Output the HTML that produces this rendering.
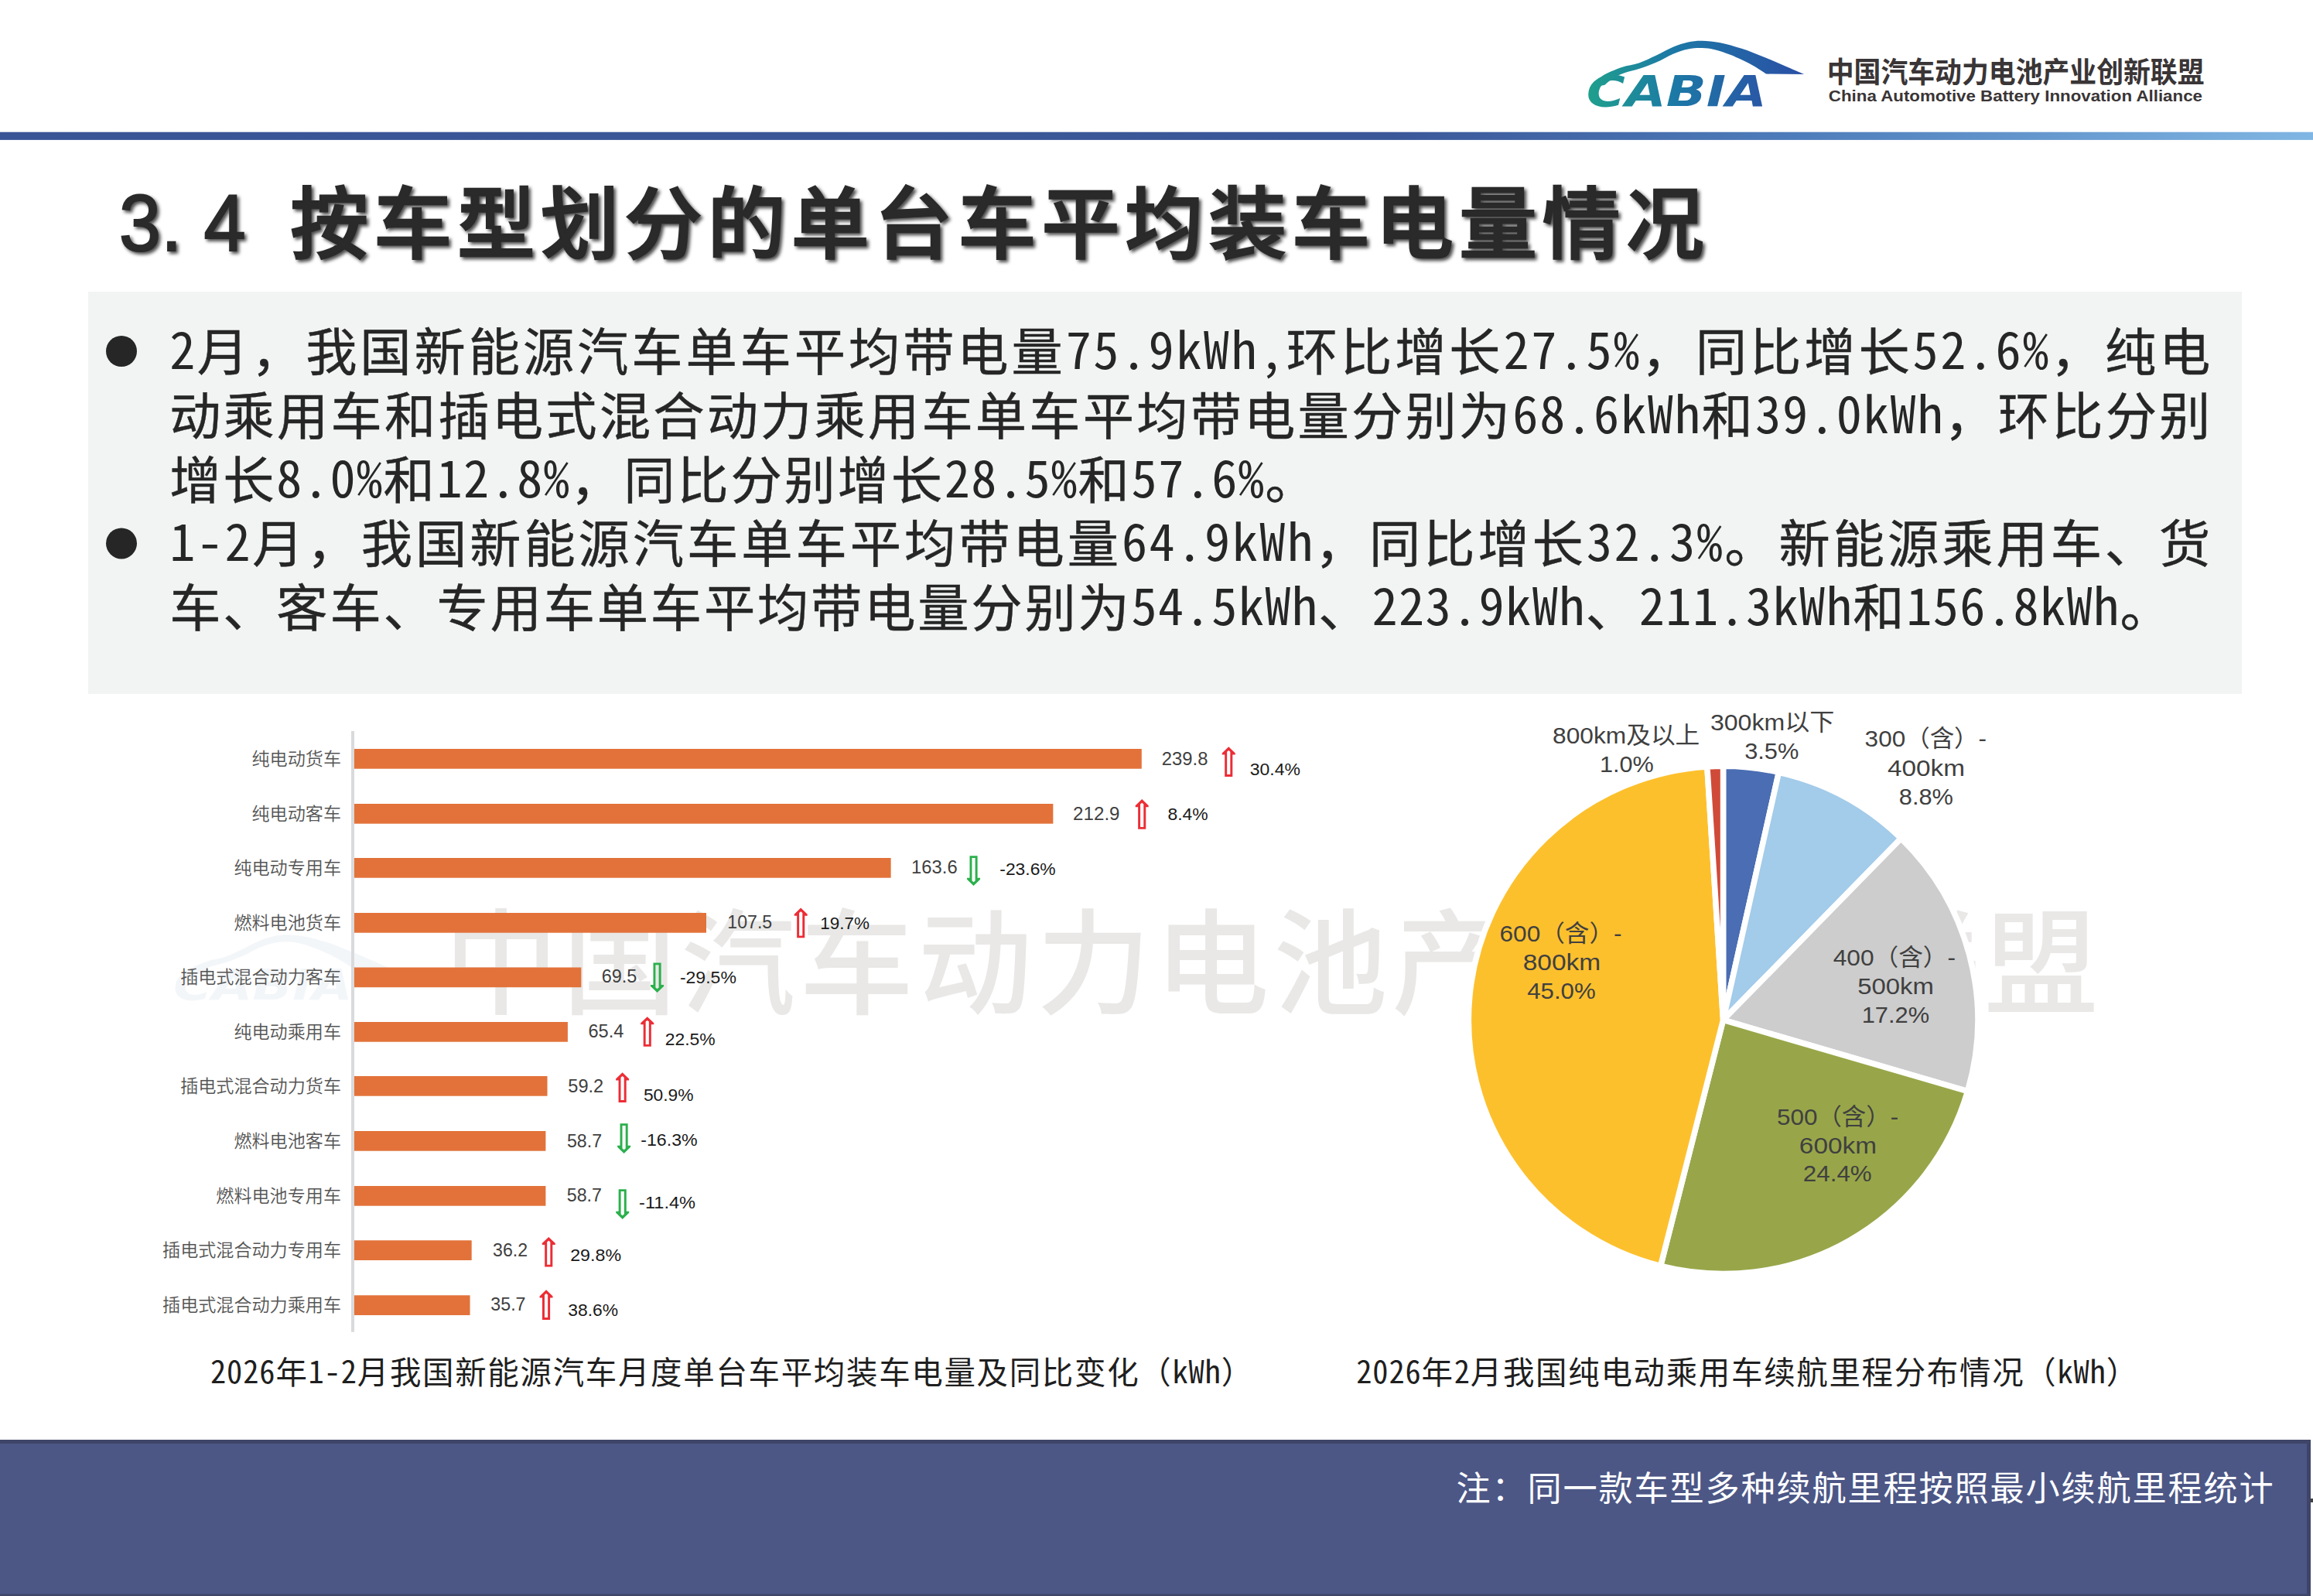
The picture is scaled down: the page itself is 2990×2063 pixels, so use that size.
<!DOCTYPE html>
<html lang="zh-CN"><head><meta charset="utf-8"><title>3.4 按车型划分的单台车平均装车电量情况</title>
<style>
html,body{margin:0;padding:0;background:#fff}
body{width:2990px;height:2063px;position:relative;overflow:hidden}
svg text{white-space:pre}
</style></head><body>
<svg width="2990" height="2063" viewBox="0 0 2990 2063" style="position:absolute;left:0;top:0;display:block">
<defs>
<linearGradient id="hl" x1="0" y1="0" x2="1" y2="0"><stop offset="0" stop-color="#3a5596"/><stop offset="0.6" stop-color="#3a5798"/><stop offset="0.78" stop-color="#4e7dbb"/><stop offset="1" stop-color="#80b6e3"/></linearGradient>
<linearGradient id="lg" gradientUnits="userSpaceOnUse" x1="2050" y1="0" x2="2335" y2="0"><stop offset="0" stop-color="#1fa08c"/><stop offset="0.4" stop-color="#1c78a6"/><stop offset="1" stop-color="#2b4ea5"/></linearGradient>
<linearGradient id="lt" x1="0" y1="0" x2="1" y2="0"><stop offset="0" stop-color="#1fa08c"/><stop offset="0.5" stop-color="#1c78a6"/><stop offset="1" stop-color="#2a56a6"/></linearGradient>
<path id="up" fill-rule="evenodd" d="M0,0 L8.5,8.1 L8.5,10.1 L5.05,10.1 L5.05,38.6 L-5.05,38.6 L-5.05,10.1 L-8.5,10.1 L-8.5,8.1 Z M-2.1,35.8 L2.1,35.8 L2.1,6.4 L0,4.7 L-2.1,6.4 Z"/>
<path id="swoosh" d="M2060.0,112.0 C2061.9,109.7 2065.4,102.3 2071.5,98.1 C2077.6,93.9 2088.6,89.8 2096.4,87.0 C2104.2,84.2 2111.2,84.0 2118.6,81.5 C2126.0,79.0 2133.3,75.2 2140.7,71.8 C2148.1,68.3 2155.9,63.7 2162.8,60.8 C2169.7,57.9 2176.0,55.9 2182.2,54.5 C2188.4,53.1 2193.3,52.6 2200.2,52.7 C2207.1,52.8 2215.2,53.5 2223.7,55.2 C2232.2,56.9 2242.2,59.8 2251.4,62.8 C2260.6,65.8 2269.8,69.5 2279.0,73.2 C2288.2,76.9 2297.8,81.2 2306.7,85.0 C2315.6,88.8 2328.0,94.2 2332.3,96.0 L2283.2,95.6 C2280.2,93.7 2272.8,88.4 2265.2,84.3 C2257.6,80.2 2245.6,74.4 2237.5,71.1 C2229.4,67.8 2223.0,65.7 2216.8,64.2 C2210.6,62.7 2206.0,62.2 2200.2,62.1 C2194.4,62.0 2188.4,62.2 2182.2,63.5 C2176.0,64.8 2169.7,66.8 2162.8,69.7 C2155.9,72.6 2148.1,77.6 2140.7,80.8 C2133.3,84.0 2125.5,86.8 2118.6,89.1 C2111.7,91.4 2104.8,92.6 2099.2,94.6 C2093.6,96.6 2089.5,98.3 2085.3,100.9 C2081.1,103.5 2075.9,108.5 2074.0,110.0 Z"/>
</defs>
<rect x="0" y="170.7" width="2990" height="10.2" fill="url(#hl)"/>
<rect x="114" y="377" width="2784" height="520" fill="#f2f4f4"/>
<text x="574.18" y="1298.77" style='font-family:"Noto Sans CJK SC","WenQuanYi Zen Hei",sans-serif;font-size:147.50px;font-weight:500;font-style:normal;fill:#e9e8e7;letter-spacing:5.649px;'>中国汽车动力电池产业创新联盟</text>
<g transform="translate(-1828 1155.5)" opacity="0.065">
<use href="#swoosh" fill="#5b82b5"/>
<text transform="translate(2051.88 136.80) scale(1.2344 1)" style='font-family:"DejaVu Sans","Liberation Sans",sans-serif;font-size:55.00px;font-weight:bold;font-style:oblique;fill:#5b82b5;'>CABIA</text>
</g>
<use href="#swoosh" fill="url(#lg)"/>
<text transform="translate(2050.87 136.80) scale(1.2399 1)" style='font-family:"DejaVu Sans","Liberation Sans",sans-serif;font-size:55.00px;font-weight:bold;font-style:oblique;fill:url(#lt);'>CABIA</text>
<text transform="translate(2361.78 106.50) scale(0.9292 1)" style='font-family:"Noto Sans CJK SC","WenQuanYi Zen Hei",sans-serif;font-size:37.50px;font-weight:bold;font-style:normal;fill:#3a3536;'>中国汽车动力电池产业创新联盟</text>
<text transform="translate(2363.80 131.40) scale(1.1467 1)" style='font-family:"Liberation Sans","Noto Sans CJK SC",sans-serif;font-size:19.48px;font-weight:bold;font-style:normal;fill:#3a3536;'>China Automotive Battery Innovation Alliance</text>
<text transform='translate(157 324.3) scale(0.93 1)' x='-3.20 55.21 114.49' y='0' style='font-family:"Liberation Sans","Noto Sans CJK SC",sans-serif;font-size:104.5px;fill:#2a2a2a;stroke:#2a2a2a;stroke-width:2.2px;filter:drop-shadow(3.5px 3.5px 2.2px rgba(0,0,0,0.7));'>3.4</text>
<text x="375.31" y="325.80" style='font-family:"Noto Sans Mono CJK SC","WenQuanYi Zen Hei Mono","Noto Sans CJK SC",monospace;font-size:100.89px;font-weight:500;font-style:normal;fill:#2a2a2a;font-family:"Noto Sans CJK SC","WenQuanYi Zen Hei",sans-serif;stroke:#2a2a2a;stroke-width:2.3px;filter:drop-shadow(3.5px 3.5px 2.2px rgba(0,0,0,0.7));' textLength="1834.30" lengthAdjust="spacing"><tspan style="letter-spacing:7.013px;">按车型划分的单台车平均装车电量情况</tspan></text>
<text x="219.18" y="477.00" style='font-family:"Noto Sans Mono CJK SC","WenQuanYi Zen Hei Mono","Noto Sans CJK SC",monospace;font-size:66.32px;font-weight:normal;font-style:normal;fill:#262626;stroke:#262626;stroke-width:0.45px;' textLength="2642.10" lengthAdjust="spacing"><tspan style="letter-spacing:2.479px;stroke:none;">2</tspan><tspan dy="2.07" style="letter-spacing:3.861px;">月，我国新能源汽车单车平均带电量</tspan><tspan dy="-2.07" style="letter-spacing:2.479px;stroke:none;">75.9kWh,</tspan><tspan dy="2.07" style="letter-spacing:3.861px;">环比增长</tspan><tspan dy="-2.07" style="letter-spacing:2.479px;stroke:none;">27.5%</tspan><tspan dy="2.07" style="letter-spacing:3.861px;">，同比增长</tspan><tspan dy="-2.07" style="letter-spacing:2.479px;stroke:none;">52.6%</tspan><tspan dy="2.07" style="letter-spacing:3.861px;">，纯电</tspan></text>
<text x="219.18" y="559.80" style='font-family:"Noto Sans Mono CJK SC","WenQuanYi Zen Hei Mono","Noto Sans CJK SC",monospace;font-size:66.32px;font-weight:normal;font-style:normal;fill:#262626;stroke:#262626;stroke-width:0.45px;' textLength="2641.36" lengthAdjust="spacing"><tspan dy="2.07" style="letter-spacing:3.126px;">动乘用车和插电式混合动力乘用车单车平均带电量分别为</tspan><tspan dy="-2.07" style="letter-spacing:1.744px;stroke:none;">68.6kWh</tspan><tspan dy="2.07" style="letter-spacing:3.126px;">和</tspan><tspan dy="-2.07" style="letter-spacing:1.744px;stroke:none;">39.0kWh</tspan><tspan dy="2.07" style="letter-spacing:3.126px;">，环比分别</tspan></text>
<text x="219.18" y="642.60" style='font-family:"Noto Sans Mono CJK SC","WenQuanYi Zen Hei Mono","Noto Sans CJK SC",monospace;font-size:66.32px;font-weight:normal;font-style:normal;fill:#262626;stroke:#262626;stroke-width:0.45px;' textLength="1485.22" lengthAdjust="spacing"><tspan dy="2.07" style="letter-spacing:2.763px;">增长</tspan><tspan dy="-2.07" style="letter-spacing:1.382px;stroke:none;">8.0%</tspan><tspan dy="2.07" style="letter-spacing:2.763px;">和</tspan><tspan dy="-2.07" style="letter-spacing:1.382px;stroke:none;">12.8%</tspan><tspan dy="2.07" style="letter-spacing:2.763px;">，同比分别增长</tspan><tspan dy="-2.07" style="letter-spacing:1.382px;stroke:none;">28.5%</tspan><tspan dy="2.07" style="letter-spacing:2.763px;">和</tspan><tspan dy="-2.07" style="letter-spacing:1.382px;stroke:none;">57.6%</tspan><tspan dy="2.07" style="letter-spacing:2.763px;">。</tspan></text>
<text x="219.18" y="725.30" style='font-family:"Noto Sans Mono CJK SC","WenQuanYi Zen Hei Mono","Noto Sans CJK SC",monospace;font-size:66.32px;font-weight:normal;font-style:normal;fill:#262626;stroke:#262626;stroke-width:0.45px;' textLength="2642.15" lengthAdjust="spacing"><tspan style="letter-spacing:2.529px;stroke:none;">1-2</tspan><tspan dy="2.07" style="letter-spacing:3.911px;">月，我国新能源汽车单车平均带电量</tspan><tspan dy="-2.07" style="letter-spacing:2.529px;stroke:none;">64.9kWh</tspan><tspan dy="2.07" style="letter-spacing:3.911px;">，同比增长</tspan><tspan dy="-2.07" style="letter-spacing:2.529px;stroke:none;">32.3%</tspan><tspan dy="2.07" style="letter-spacing:3.911px;">。新能源乘用车、货</tspan></text>
<text x="219.18" y="808.10" style='font-family:"Noto Sans Mono CJK SC","WenQuanYi Zen Hei Mono","Noto Sans CJK SC",monospace;font-size:66.32px;font-weight:normal;font-style:normal;fill:#262626;stroke:#262626;stroke-width:0.45px;' textLength="2590.50" lengthAdjust="spacing"><tspan dy="2.07" style="letter-spacing:2.763px;">车、客车、专用车单车平均带电量分别为</tspan><tspan dy="-2.07" style="letter-spacing:1.382px;stroke:none;">54.5kWh</tspan><tspan dy="2.07" style="letter-spacing:2.763px;">、</tspan><tspan dy="-2.07" style="letter-spacing:1.382px;stroke:none;">223.9kWh</tspan><tspan dy="2.07" style="letter-spacing:2.763px;">、</tspan><tspan dy="-2.07" style="letter-spacing:1.382px;stroke:none;">211.3kWh</tspan><tspan dy="2.07" style="letter-spacing:2.763px;">和</tspan><tspan dy="-2.07" style="letter-spacing:1.382px;stroke:none;">156.8kWh</tspan><tspan dy="2.07" style="letter-spacing:2.763px;">。</tspan></text>
<circle cx="157" cy="454" r="20" fill="#262626"/>
<circle cx="157" cy="702.4" r="20" fill="#262626"/>
<rect x="456" y="968.00" width="1019.79" height="25.7" fill="#e2723a"/>
<text x="441.00" y="988.95" text-anchor="end" style='font-family:"Noto Sans CJK SC","WenQuanYi Zen Hei",sans-serif;font-size:23.10px;font-weight:350;font-style:normal;fill:#555555;'>纯电动货车</text>
<text transform="translate(1501.78 989.10) scale(0.9695 1)" style='font-family:"Liberation Sans","Noto Sans CJK SC",sans-serif;font-size:24.60px;font-weight:normal;font-style:normal;fill:#404040;'>239.8</text>
<use href="#up" transform="translate(1588.25 965.30)" fill="#ec2d35"/>
<text transform="translate(1615.78 1002.00) scale(1.0175 1)" style='font-family:"Liberation Sans","Noto Sans CJK SC",sans-serif;font-size:22.60px;font-weight:normal;font-style:normal;fill:#1a1a1a;'>30.4%</text>
<rect x="456" y="1039.00" width="905.36" height="25.7" fill="#e2723a"/>
<text x="441.00" y="1059.95" text-anchor="end" style='font-family:"Noto Sans CJK SC","WenQuanYi Zen Hei",sans-serif;font-size:23.10px;font-weight:350;font-style:normal;fill:#555555;'>纯电动客车</text>
<text transform="translate(1387.07 1060.10) scale(0.9830 1)" style='font-family:"Liberation Sans","Noto Sans CJK SC",sans-serif;font-size:24.60px;font-weight:normal;font-style:normal;fill:#404040;'>212.9</text>
<use href="#up" transform="translate(1476.20 1033.10)" fill="#ec2d35"/>
<text transform="translate(1509.38 1059.60) scale(1.0153 1)" style='font-family:"Liberation Sans","Noto Sans CJK SC",sans-serif;font-size:22.60px;font-weight:normal;font-style:normal;fill:#1a1a1a;'>8.4%</text>
<rect x="456" y="1109.00" width="695.64" height="25.7" fill="#e2723a"/>
<text x="441.00" y="1129.95" text-anchor="end" style='font-family:"Noto Sans CJK SC","WenQuanYi Zen Hei",sans-serif;font-size:23.10px;font-weight:350;font-style:normal;fill:#555555;'>纯电动专用车</text>
<text transform="translate(1178.11 1129.30) scale(0.9674 1)" style='font-family:"Liberation Sans","Noto Sans CJK SC",sans-serif;font-size:24.60px;font-weight:normal;font-style:normal;fill:#404040;'>163.6</text>
<use href="#up" transform="translate(1258.55 1144.90) scale(1 -1)" fill="#2bb04c"/>
<text transform="translate(1292.29 1131.40) scale(1.0110 1)" style='font-family:"Liberation Sans","Noto Sans CJK SC",sans-serif;font-size:22.60px;font-weight:normal;font-style:normal;fill:#1a1a1a;'>-23.6%</text>
<rect x="456" y="1180.00" width="456.99" height="25.7" fill="#e2723a"/>
<text x="441.00" y="1200.95" text-anchor="end" style='font-family:"Noto Sans CJK SC","WenQuanYi Zen Hei",sans-serif;font-size:23.10px;font-weight:350;font-style:normal;fill:#555555;'>燃料电池货车</text>
<text transform="translate(940.35 1200.10) scale(0.9403 1)" style='font-family:"Liberation Sans","Noto Sans CJK SC",sans-serif;font-size:24.60px;font-weight:normal;font-style:normal;fill:#404040;'>107.5</text>
<use href="#up" transform="translate(1035.20 1173.60)" fill="#ec2d35"/>
<text transform="translate(1060.20 1201.40) scale(0.9936 1)" style='font-family:"Liberation Sans","Noto Sans CJK SC",sans-serif;font-size:22.60px;font-weight:normal;font-style:normal;fill:#1a1a1a;'>19.7%</text>
<rect x="456" y="1250.50" width="295.35" height="25.7" fill="#e2723a"/>
<text x="441.00" y="1271.45" text-anchor="end" style='font-family:"Noto Sans CJK SC","WenQuanYi Zen Hei",sans-serif;font-size:23.10px;font-weight:350;font-style:normal;fill:#555555;'>插电式混合动力客车</text>
<text transform="translate(777.70 1270.30) scale(0.9556 1)" style='font-family:"Liberation Sans","Noto Sans CJK SC",sans-serif;font-size:24.60px;font-weight:normal;font-style:normal;fill:#404040;'>69.5</text>
<use href="#up" transform="translate(849.55 1283.00) scale(1 -1)" fill="#2bb04c"/>
<text transform="translate(878.88 1270.90) scale(1.0195 1)" style='font-family:"Liberation Sans","Noto Sans CJK SC",sans-serif;font-size:22.60px;font-weight:normal;font-style:normal;fill:#1a1a1a;'>-29.5%</text>
<rect x="456" y="1321.00" width="277.91" height="25.7" fill="#e2723a"/>
<text x="441.00" y="1341.95" text-anchor="end" style='font-family:"Noto Sans CJK SC","WenQuanYi Zen Hei",sans-serif;font-size:23.10px;font-weight:350;font-style:normal;fill:#555555;'>纯电动乘用车</text>
<text transform="translate(760.49 1341.20) scale(0.9585 1)" style='font-family:"Liberation Sans","Noto Sans CJK SC",sans-serif;font-size:24.60px;font-weight:normal;font-style:normal;fill:#404040;'>65.4</text>
<use href="#up" transform="translate(836.75 1314.20)" fill="#ec2d35"/>
<text transform="translate(859.73 1351.40) scale(1.0137 1)" style='font-family:"Liberation Sans","Noto Sans CJK SC",sans-serif;font-size:22.60px;font-weight:normal;font-style:normal;fill:#1a1a1a;'>22.5%</text>
<rect x="456" y="1391.00" width="251.53" height="25.7" fill="#e2723a"/>
<text x="441.00" y="1411.95" text-anchor="end" style='font-family:"Noto Sans CJK SC","WenQuanYi Zen Hei",sans-serif;font-size:23.10px;font-weight:350;font-style:normal;fill:#555555;'>插电式混合动力货车</text>
<text transform="translate(734.26 1411.70) scale(0.9607 1)" style='font-family:"Liberation Sans","Noto Sans CJK SC",sans-serif;font-size:24.60px;font-weight:normal;font-style:normal;fill:#404040;'>59.2</text>
<use href="#up" transform="translate(804.60 1386.30)" fill="#ec2d35"/>
<text transform="translate(831.89 1422.50) scale(1.0095 1)" style='font-family:"Liberation Sans","Noto Sans CJK SC",sans-serif;font-size:22.60px;font-weight:normal;font-style:normal;fill:#1a1a1a;'>50.9%</text>
<rect x="456" y="1462.00" width="249.40" height="25.7" fill="#e2723a"/>
<text x="441.00" y="1482.95" text-anchor="end" style='font-family:"Noto Sans CJK SC","WenQuanYi Zen Hei",sans-serif;font-size:23.10px;font-weight:350;font-style:normal;fill:#555555;'>燃料电池客车</text>
<text transform="translate(732.98 1482.50) scale(0.9412 1)" style='font-family:"Liberation Sans","Noto Sans CJK SC",sans-serif;font-size:24.60px;font-weight:normal;font-style:normal;fill:#404040;'>58.7</text>
<use href="#up" transform="translate(806.60 1490.90) scale(1 -1)" fill="#2bb04c"/>
<text transform="translate(828.17 1480.70) scale(1.0267 1)" style='font-family:"Liberation Sans","Noto Sans CJK SC",sans-serif;font-size:22.60px;font-weight:normal;font-style:normal;fill:#1a1a1a;'>-16.3%</text>
<rect x="456" y="1533.00" width="249.40" height="25.7" fill="#e2723a"/>
<text x="441.00" y="1553.95" text-anchor="end" style='font-family:"Noto Sans CJK SC","WenQuanYi Zen Hei",sans-serif;font-size:23.10px;font-weight:350;font-style:normal;fill:#555555;'>燃料电池专用车</text>
<text transform="translate(732.77 1552.60) scale(0.9433 1)" style='font-family:"Liberation Sans","Noto Sans CJK SC",sans-serif;font-size:24.60px;font-weight:normal;font-style:normal;fill:#404040;'>58.7</text>
<use href="#up" transform="translate(804.70 1575.90) scale(1 -1)" fill="#2bb04c"/>
<text transform="translate(826.06 1562.00) scale(1.0445 1)" style='font-family:"Liberation Sans","Noto Sans CJK SC",sans-serif;font-size:22.60px;font-weight:normal;font-style:normal;fill:#1a1a1a;'>-11.4%</text>
<rect x="456" y="1603.30" width="153.69" height="25.7" fill="#e2723a"/>
<text x="441.00" y="1624.25" text-anchor="end" style='font-family:"Noto Sans CJK SC","WenQuanYi Zen Hei",sans-serif;font-size:23.10px;font-weight:350;font-style:normal;fill:#555555;'>插电式混合动力专用车</text>
<text transform="translate(637.08 1623.60) scale(0.9412 1)" style='font-family:"Liberation Sans","Noto Sans CJK SC",sans-serif;font-size:24.60px;font-weight:normal;font-style:normal;fill:#404040;'>36.2</text>
<use href="#up" transform="translate(709.25 1599.00)" fill="#ec2d35"/>
<text transform="translate(737.21 1629.80) scale(1.0281 1)" style='font-family:"Liberation Sans","Noto Sans CJK SC",sans-serif;font-size:22.60px;font-weight:normal;font-style:normal;fill:#1a1a1a;'>29.8%</text>
<rect x="456" y="1674.30" width="151.56" height="25.7" fill="#e2723a"/>
<text x="441.00" y="1695.25" text-anchor="end" style='font-family:"Noto Sans CJK SC","WenQuanYi Zen Hei",sans-serif;font-size:23.10px;font-weight:350;font-style:normal;fill:#555555;'>插电式混合动力乘用车</text>
<text transform="translate(634.37 1693.60) scale(0.9433 1)" style='font-family:"Liberation Sans","Noto Sans CJK SC",sans-serif;font-size:24.60px;font-weight:normal;font-style:normal;fill:#404040;'>35.7</text>
<use href="#up" transform="translate(706.05 1667.30)" fill="#ec2d35"/>
<text transform="translate(734.18 1700.60) scale(1.0127 1)" style='font-family:"Liberation Sans","Noto Sans CJK SC",sans-serif;font-size:22.60px;font-weight:normal;font-style:normal;fill:#1a1a1a;'>38.6%</text>
<rect x="454" y="945" width="4" height="776.8" fill="#d9dadc"/>
<g stroke="#fff" stroke-width="7.5" stroke-linejoin="round" transform="translate(0 4.351) scale(1 0.9967)">
<path d="M2227.55,1318.45 L2227.55,989.25 A329.2,329.2 0 0 1 2299.43,997.19 Z" fill="#4a6db3"/>
<path d="M2227.55,1318.45 L2299.43,997.19 A329.2,329.2 0 0 1 2457.57,1082.94 Z" fill="#a3cbea"/>
<path d="M2227.55,1318.45 L2457.57,1082.94 A329.2,329.2 0 0 1 2543.51,1410.88 Z" fill="#cdcdcd"/>
<path d="M2227.55,1318.45 L2543.51,1410.88 A329.2,329.2 0 0 1 2146.60,1637.54 Z" fill="#98a649"/>
<path d="M2227.55,1318.45 L2146.60,1637.54 A329.2,329.2 0 0 1 2206.86,989.90 Z" fill="#fdc02d"/>
<path d="M2227.55,1318.45 L2206.86,989.90 A329.2,329.2 0 0 1 2227.55,989.25 Z" fill="#d04a38"/>
</g>
<text transform="translate(2007.11 961.40) scale(1.0458 1)" style='font-family:"Liberation Sans","Noto Sans CJK SC",sans-serif;font-size:30.30px;font-weight:normal;font-style:normal;fill:#404040;'>800km及以上</text>
<text transform="translate(2067.89 998.10) scale(1.0111 1)" style='font-family:"Liberation Sans","Noto Sans CJK SC",sans-serif;font-size:30.30px;font-weight:normal;font-style:normal;fill:#404040;'>1.0%</text>
<text transform="translate(2210.90 943.90) scale(1.0598 1)" style='font-family:"Liberation Sans","Noto Sans CJK SC",sans-serif;font-size:30.30px;font-weight:normal;font-style:normal;fill:#404040;'>300km以下</text>
<text transform="translate(2255.14 980.70) scale(1.0162 1)" style='font-family:"Liberation Sans","Noto Sans CJK SC",sans-serif;font-size:30.30px;font-weight:normal;font-style:normal;fill:#404040;'>3.5%</text>
<text transform="translate(2410.62 965.40) scale(1.0394 1)" style='font-family:"Liberation Sans","Noto Sans CJK SC",sans-serif;font-size:30.30px;font-weight:normal;font-style:normal;fill:#404040;'>300（含）-</text>
<text transform="translate(2439.98 1002.90) scale(1.1001 1)" style='font-family:"Liberation Sans","Noto Sans CJK SC",sans-serif;font-size:30.30px;font-weight:normal;font-style:normal;fill:#404040;'>400km</text>
<text transform="translate(2454.84 1039.90) scale(1.0162 1)" style='font-family:"Liberation Sans","Noto Sans CJK SC",sans-serif;font-size:30.30px;font-weight:normal;font-style:normal;fill:#404040;'>8.8%</text>
<text transform="translate(2369.71 1247.80) scale(1.0455 1)" style='font-family:"Liberation Sans","Noto Sans CJK SC",sans-serif;font-size:30.30px;font-weight:normal;font-style:normal;fill:#404040;'>400（含）-</text>
<text transform="translate(2401.27 1285.00) scale(1.0845 1)" style='font-family:"Liberation Sans","Noto Sans CJK SC",sans-serif;font-size:30.30px;font-weight:normal;font-style:normal;fill:#404040;'>500km</text>
<text transform="translate(2406.67 1321.50) scale(1.0178 1)" style='font-family:"Liberation Sans","Noto Sans CJK SC",sans-serif;font-size:30.30px;font-weight:normal;font-style:normal;fill:#404040;'>17.2%</text>
<text transform="translate(2297.02 1454.20) scale(1.0368 1)" style='font-family:"Liberation Sans","Noto Sans CJK SC",sans-serif;font-size:30.30px;font-weight:normal;font-style:normal;fill:#404040;'>500（含）-</text>
<text transform="translate(2325.84 1490.70) scale(1.1006 1)" style='font-family:"Liberation Sans","Noto Sans CJK SC",sans-serif;font-size:30.30px;font-weight:normal;font-style:normal;fill:#404040;'>600km</text>
<text transform="translate(2330.83 1526.80) scale(1.0348 1)" style='font-family:"Liberation Sans","Noto Sans CJK SC",sans-serif;font-size:30.30px;font-weight:normal;font-style:normal;fill:#404040;'>24.4%</text>
<text transform="translate(1938.52 1217.10) scale(1.0434 1)" style='font-family:"Liberation Sans","Noto Sans CJK SC",sans-serif;font-size:30.30px;font-weight:normal;font-style:normal;fill:#404040;'>600（含）-</text>
<text transform="translate(1968.65 1254.20) scale(1.1060 1)" style='font-family:"Liberation Sans","Noto Sans CJK SC",sans-serif;font-size:30.30px;font-weight:normal;font-style:normal;fill:#404040;'>800km</text>
<text transform="translate(1974.21 1291.00) scale(1.0291 1)" style='font-family:"Liberation Sans","Noto Sans CJK SC",sans-serif;font-size:30.30px;font-weight:normal;font-style:normal;fill:#404040;'>45.0%</text>
<text x="272.04" y="1788.00" style='font-family:"Noto Sans Mono CJK SC","WenQuanYi Zen Hei Mono","Noto Sans CJK SC",monospace;font-size:40.46px;font-weight:normal;font-style:normal;fill:#1f1f1f;' textLength="1348.80" lengthAdjust="spacing"><tspan style="letter-spacing:0.843px;">2026</tspan><tspan dy="1.26" style="letter-spacing:1.686px;">年</tspan><tspan dy="-1.26" style="letter-spacing:0.843px;">1-2</tspan><tspan dy="1.26" style="letter-spacing:1.686px;">月我国新能源汽车月度单台车平均装车电量及同比变化（</tspan><tspan dy="-1.26" style="letter-spacing:0.843px;">kWh</tspan><tspan dy="1.26" style="letter-spacing:1.686px;">）</tspan></text>
<text x="1753.24" y="1788.00" style='font-family:"Noto Sans Mono CJK SC","WenQuanYi Zen Hei Mono","Noto Sans CJK SC",monospace;font-size:40.46px;font-weight:normal;font-style:normal;fill:#1f1f1f;' textLength="1011.60" lengthAdjust="spacing"><tspan style="letter-spacing:0.843px;">2026</tspan><tspan dy="1.26" style="letter-spacing:1.686px;">年</tspan><tspan dy="-1.26" style="letter-spacing:0.843px;">2</tspan><tspan dy="1.26" style="letter-spacing:1.686px;">月我国纯电动乘用车续航里程分布情况（</tspan><tspan dy="-1.26" style="letter-spacing:0.843px;">kWh</tspan><tspan dy="1.26" style="letter-spacing:1.686px;">）</tspan></text>
<rect x="0" y="1861" width="2987" height="202" fill="#3e4568"/>
<rect x="0" y="1866" width="2982" height="194.5" fill="#4c5786"/>
<rect x="2987" y="1937" width="3" height="5" fill="#444"/>
<text x="1882.52" y="1940.30" style='font-family:"Noto Sans Mono CJK SC","WenQuanYi Zen Hei Mono","Noto Sans CJK SC",monospace;font-size:44.16px;font-weight:normal;font-style:normal;fill:#ffffff;' textLength="1058.00" lengthAdjust="spacing"><tspan style="letter-spacing:1.840px;">注：同一款车型多种续航里程按照最小续航里程统计</tspan></text>
</svg>
</body></html>
